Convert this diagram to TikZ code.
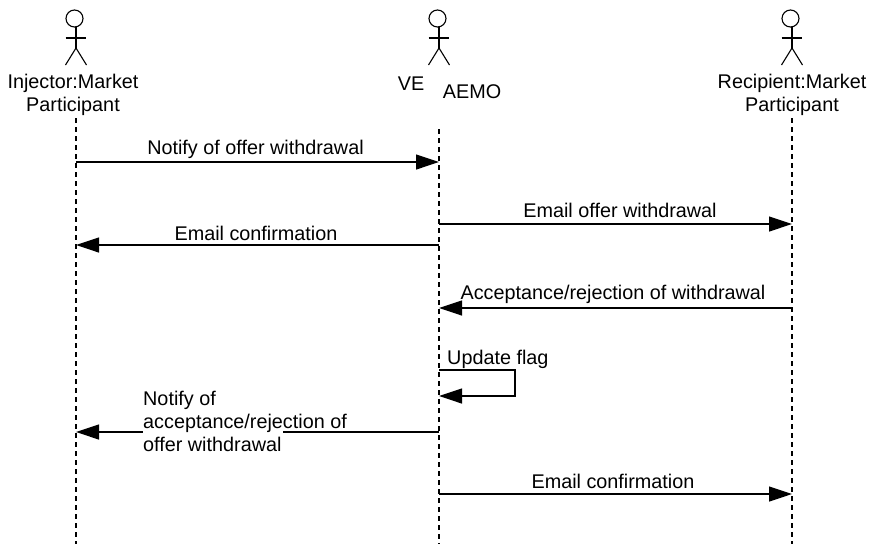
\documentclass[tikz,border=0pt]{standalone}
\usepackage{fontspec}
\setmainfont{Liberation Sans}
\usetikzlibrary{arrows.meta}
\tikzset{
  x=1pt,y=-1pt,
  lifeline/.style={draw=black,line width=1.1pt,dash pattern=on 5pt off 4pt},
  msg/.style={draw=black,line width=1.2pt,-{Triangle[length=23pt,width=15pt,fill=black]}},
  txt/.style={inner sep=0pt,font=\fontsize{19.8}{23}\selectfont,text=black,align=center},
  txtl/.style={inner sep=0pt,font=\fontsize{19.8}{23}\selectfont,text=black,align=left,anchor=west},
  actorline/.style={draw=black,line width=1.1pt},
  gapmask/.style={fill=white,draw=none,inner sep=0pt,minimum width=140pt,minimum height=3.5pt}
}
\newcommand{\actorfig}[2]{%
  \node[circle,draw=black,line width=1.1pt,minimum size=17pt,inner sep=0pt] (#2head) at (#1-1.5,18.5) {};
  \coordinate (#2neck) at (#1,27);
  \coordinate (#2hip) at (#1,48);
  \coordinate (#2la) at (#1-10.5,38);
  \coordinate (#2ra) at (#1+9.5,38);
  \coordinate (#2ll) at (#1-10.5,65);
  \coordinate (#2rl) at (#1+10.5,65);
  \draw[actorline] (#2neck) -- (#2hip);
  \draw[actorline] (#2la) -- (#2ra);
  \draw[actorline] (#2ll) -- (#2hip) -- (#2rl);
}
\begin{document}
\begin{tikzpicture}
\useasboundingbox (0,0) rectangle (870,544);
\actorfig{76}{inj}
\actorfig{439}{ve}
\actorfig{792}{rec}
\node[txt] (injlabel) at (73,95) {Injector:Market\\Participant};
\node[txt] (velabel) at (411,83.5) {VE};
\node[txt] (aemolabel) at (472,92) {AEMO};
\node[txt] (reclabel) at (792,95) {Recipient:Market\\Participant};
\coordinate (injtop) at (76,118);
\coordinate (injbot) at (76,544);
\coordinate (vetop) at (439,129);
\coordinate (vebot) at (439,544);
\coordinate (rectop) at (792,118);
\coordinate (recbot) at (792,544);
\draw[lifeline] (injtop) -- (injbot);
\draw[lifeline] (vetop) -- (vebot);
\draw[lifeline] (rectop) -- (recbot);
% messages
\coordinate (m1a) at (76,162); \coordinate (m1b) at (439,162);
\coordinate (m2a) at (439,224); \coordinate (m2b) at (792,224);
\coordinate (m3a) at (439,245); \coordinate (m3b) at (76,245);
\coordinate (m4a) at (792,308); \coordinate (m4b) at (439,308);
\coordinate (m5a) at (439,370); \coordinate (m5c) at (515,370); \coordinate (m5d) at (515,396); \coordinate (m5b) at (439,396);
\coordinate (m6a) at (439,432); \coordinate (m6b) at (76,432);
\coordinate (m7a) at (439,494); \coordinate (m7b) at (792,494);
\draw[msg] (m1a) -- (m1b);
\draw[msg] (m2a) -- (m2b);
\draw[msg] (m3a) -- (m3b);
\draw[msg] (m4a) -- (m4b);
\draw[msg] (m5a) -- (m5c) -- (m5d) -- (m5b);
\draw[msg] (m6a) -- (m6b);
\draw[msg] (m7a) -- (m7b);
\node[gapmask] (gap) at (213,432) {};
\node[txt] (t1) at (255.5,149) {Notify of offer withdrawal};
\node[txt] (t2) at (620,210) {Email offer withdrawal};
\node[txt] (t3) at (256,233) {Email confirmation};
\node[txt] (t4) at (613,294) {Acceptance/rejection of withdrawal};
\node[txtl] (t5) at (447,359.5) {Update flag};
\node[txtl] (t6) at (143,421.5) {Notify of\\acceptance/rejection of\\offer withdrawal};
\node[txt] (t7) at (613,481) {Email confirmation};
\end{tikzpicture}
\end{document}
